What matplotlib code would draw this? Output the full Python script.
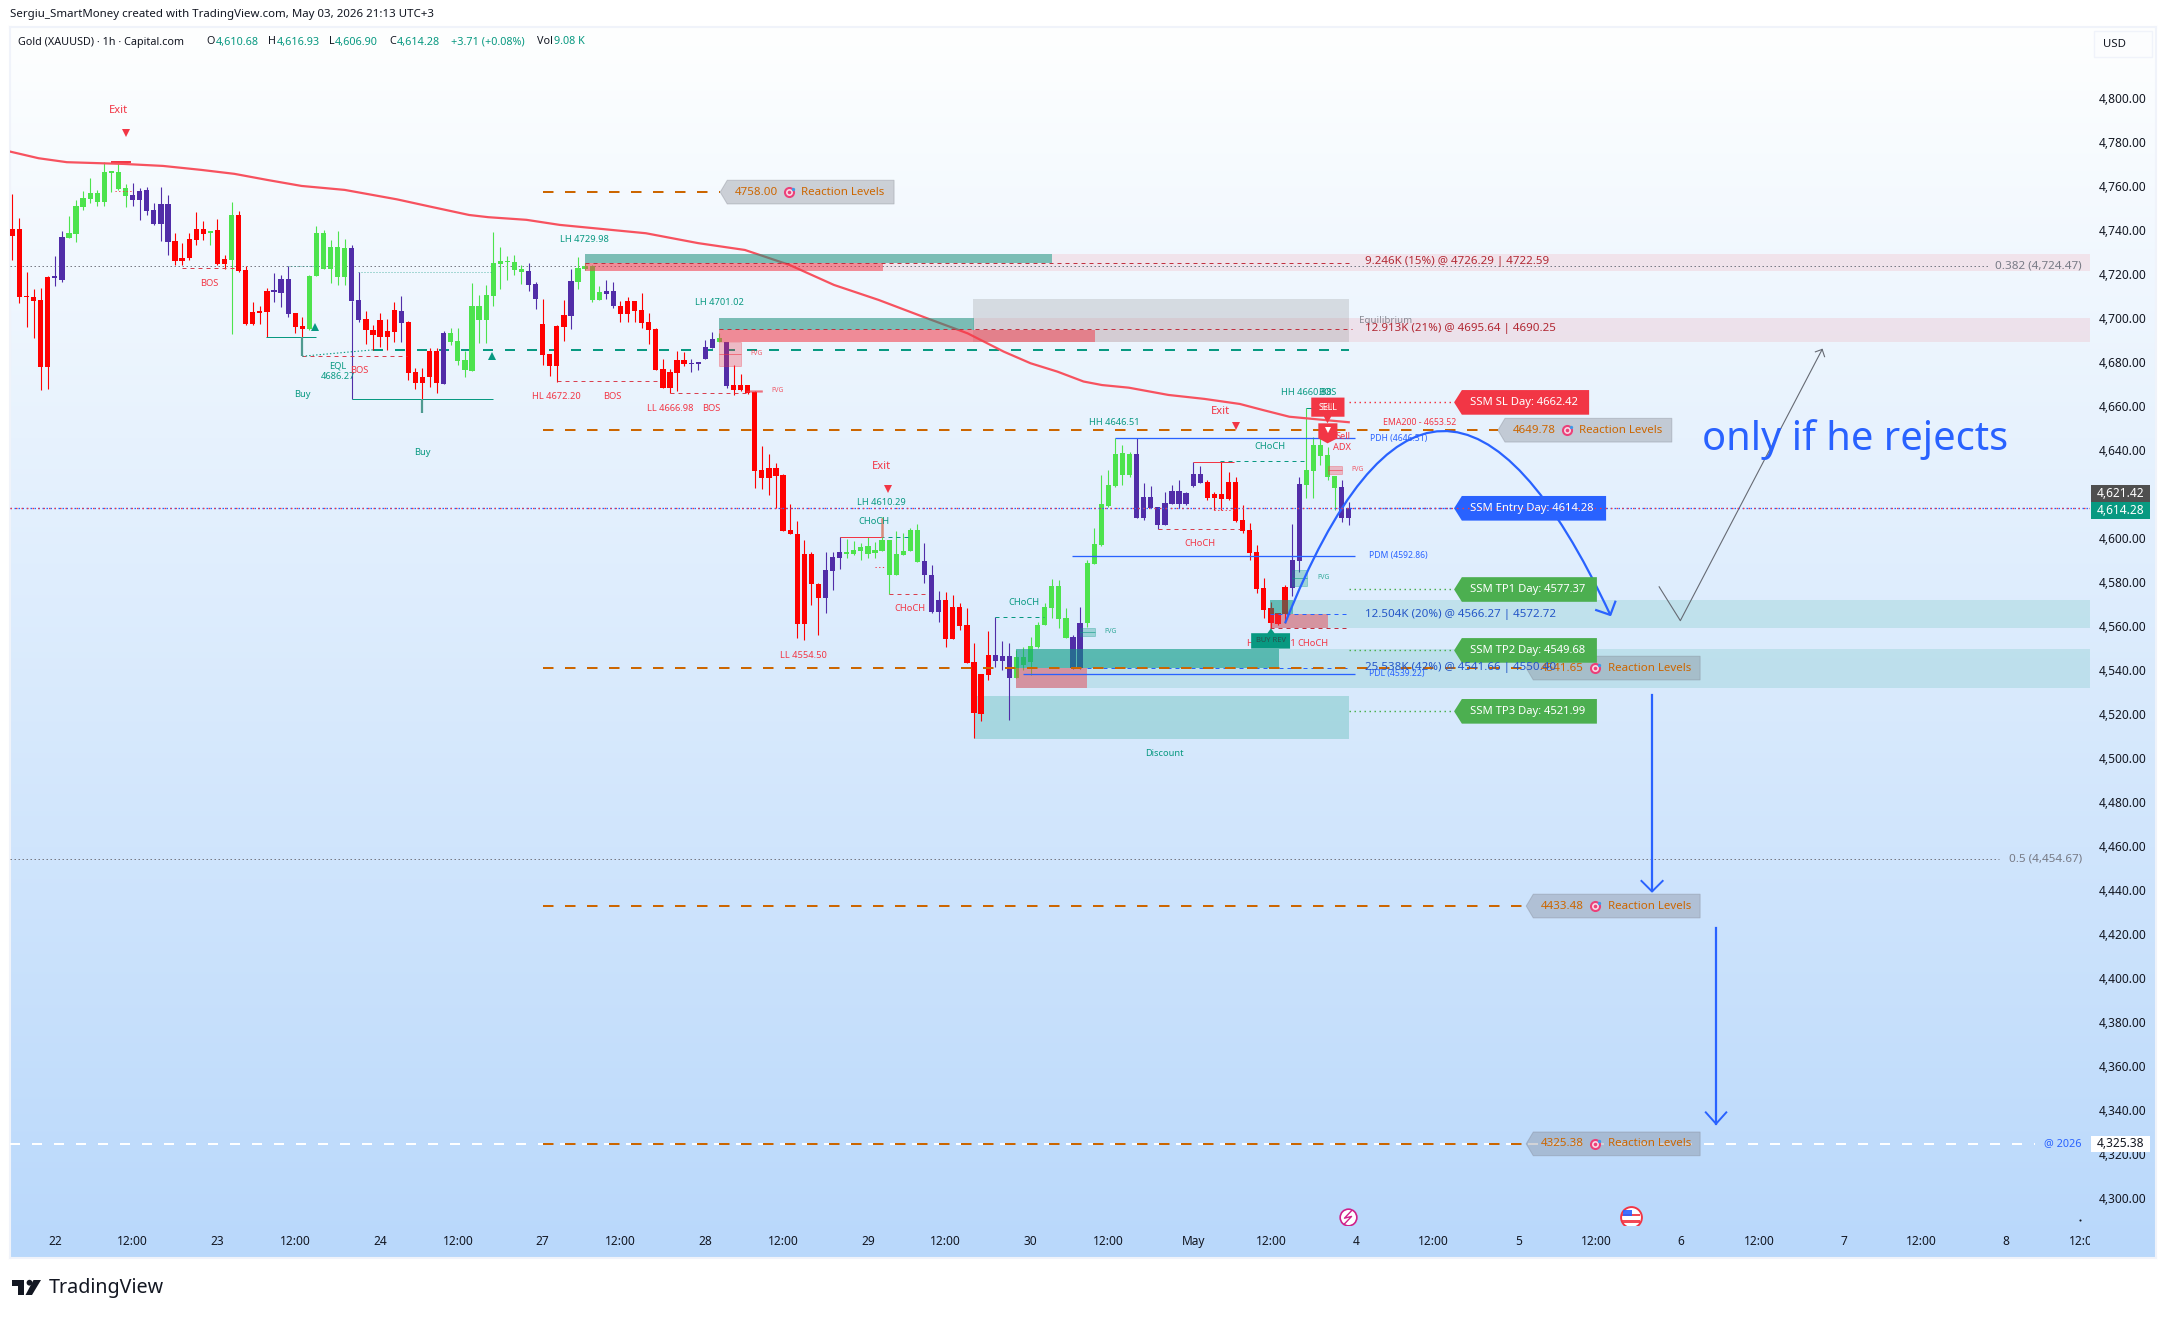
import numpy as np
import matplotlib
matplotlib.use('Agg')
import matplotlib.pyplot as plt
from matplotlib.patches import Polygon, Rectangle, PathPatch, Circle
from matplotlib.path import Path
from matplotlib.transforms import Bbox, ScaledTranslation

# candles, prices minus 4000
highs = np.array([
    757.2,746.3,721.7,713.8,714.3,719.9,729,740.4,747.2,754.4,
    758.4,764.4,759,771.6,767.2,771.1,761.7,762.2,759.7,760.2,
    752.9,760.4,756.7,739.3,734.7,739.3,749,744.9,740.4,745.8,
    729.4,753.5,749.4,724.4,708.1,706.3,714.4,721.3,720.4,724.4,
    703.1,701.3,720.2,742.6,740.8,736.3,740.4,736.7,734,721.7,
    704,697.6,703.1,700.4,708.1,710.8,699.4,678.1,678.1,687.2,
    687.2,694.9,696.3,696.3,685.8,716.7,711.3,715.8,739.9,733.1,
    729,729.4,724.9,725.8,717.2,709.4,684.4,697.6,709,723.1,
    728.7,725.7,724.9,715.4,718.1,717.2,708.5,710.4,708.5,712.2,
    703.1,696.3,682.2,677.6,685.8,685.4,682.2,680.8,690.8,694.4,
    693.8,690,679.4,675.3,670.3,667.8,642.6,639,635,629.7,
    616.1,608.5,599.9,594.4,580.3,594.4,594.4,601.1,600.3,599.4,
    598.4,601.4,599,610.5,599.9,604,603.2,605.5,607.2,598.4,
    588.5,576.7,576.1,574.9,571.4,568.8,552.9,539,558.5,565,
    554,552.9,549.9,551.4,556,562.8,571.4,582,581.7,568.8,
    556.7,569.6,590.8,605.2,629.4,631.7,646.1,643.1,640,646.1,
    625.6,624.6,615,621.9,624.9,627.2,621.9,635.2,633.5,627.2,
    621.9,635.2,630.9,628.4,615.8,607.5,597.6,582.5,571.8,566.7,
    579.4,607.2,628.4,659.7,646.9,646.9,642.3,629,627.2,616.93]) + 4000
body_tops = np.array([
    741.3,741.3,710.8,710.4,709,719.4,719.9,737.6,739.4,751.7,
    755.4,757.6,757.6,767.2,767.2,767.2,759.9,756.7,758.5,759,
    749.9,752.6,752.6,735.8,728.1,736.7,741.3,741.3,739.9,740.8,
    727.6,747.6,747.6,722.6,703.5,704,713.1,713.1,718.5,718.5,
    703.1,697.2,719.9,739.4,739.4,733.1,733.1,732.6,732.6,709,
    700.4,695.4,699.9,694.9,704.4,704,699,676.3,674,685.8,
    685.8,694,694,690.4,681.7,706.3,706.3,711.3,725.8,726.7,
    726.6,726.3,723.1,722.2,716.3,698.1,684.4,697.2,702.2,717.6,
    723.5,724.4,724.4,712.6,713.1,713.1,706.3,708.5,708.5,704.4,
    699,695.8,677.6,676.3,681.7,681.7,680.2,680.8,687.6,691.3,
    691.7,690,670.3,670.3,670.3,667.3,631.7,632.5,632.5,629.4,
    604.4,602.6,593.5,593.5,579.9,586.2,592.2,594.4,594.4,595.3,
    596.7,597.2,595.3,599.9,599.9,593.5,594.9,604.4,604.4,590.3,
    584,572.6,572.6,569.4,569.4,561.2,544.4,539,547.6,547.6,
    547.1,547.1,546.5,546.5,551.7,561.2,569.4,579,579,564.4,
    555.8,562,589.4,598.1,616.2,624.9,639,639.4,639,639,
    619.4,619.4,614.9,616.7,622.2,622.2,621.2,629.9,629.9,626.2,
    620.8,620.8,626.2,626.2,609,604.4,594.4,578,569,566.7,
    578.5,590.8,625.3,631.7,643.1,643.1,638.5,629,624,614.28]) + 4000
body_bots = np.array([
    738.1,710.5,710.4,708.5,678.7,678.7,719,718.2,737.3,739,
    751.3,754.9,753.5,753.5,766.9,759.3,756.3,754.4,754.4,749.4,
    743.5,743.5,735.4,726.7,726.7,728.1,736.3,739,739.6,725.4,
    725.4,727.2,722.2,698.1,698.1,703.1,703.5,712.8,712.2,702.6,
    696.7,695.8,695.8,719.9,723.1,723.1,719.4,719.4,708.5,699.9,
    695.4,693.1,692.2,692.2,694.4,698.5,675.8,671.3,671.3,674,
    671.3,670.8,689.9,681.3,677.2,676.7,699.9,699.9,710.8,725.4,
    726.3,722.6,721.7,715.8,709.4,684,679,679,696.7,701.7,
    717.2,723.1,709,709,711.7,706.3,702.6,702.6,704,698.5,
    695.4,677.2,669,669,675.8,679.9,679.9,679.9,682.2,687.2,
    689.9,669.9,668.1,668.1,666.6,631.4,628.2,628.2,629.1,604,
    602.6,561.7,561.7,579.9,573.5,573.5,585.9,591.7,593.5,593.5,
    594.9,593.5,594,594.9,584,584,593.1,594.9,589.9,584,
    567.2,567.2,554.9,554.9,560.8,543.8,521.4,520.8,538.5,544.9,
    544.9,537.2,537.2,543,544.4,551.3,561.2,569,564,555.3,
    541.5,541.5,562.2,589,597.6,615.3,624.4,629.4,629.4,609.9,
    609.9,614.6,606.7,606.7,616.2,616.2,616.2,624.4,625.8,619,
    619,618.5,618.5,608.5,604,594,577.6,568,562.3,561.7,
    566.2,578,590.3,624.9,631.2,638,628.5,623.5,609.9,609.9]) + 4000
lows = np.array([
    727.2,707.8,696.9,691.9,668.2,668.5,715.5,717.3,737.3,735.5,
    749.9,752.9,751.7,751.7,758.1,759,751.3,751.7,745.4,747.6,
    743.1,735.8,729.4,724.9,724.9,727.2,734,736.3,734,724.9,
    723.1,693.5,721.9,697.6,697.6,698.1,692.3,708.1,705.8,701.3,
    694,692.3,695.4,719.9,723.1,716.6,715.8,715.8,708.5,699.1,
    689,686.3,687.8,686.3,689.9,689.9,672.6,668.7,663.5,669.6,
    666.6,670.8,688.5,679.4,674,676.7,689.4,689.4,706.3,714.1,
    718.1,720.4,716.3,713.1,704.9,679.4,674.4,671.9,690.4,695.8,
    714,722.6,708.1,709,709.4,705.4,699,699,699,696.3,
    689,677.2,669,666.6,667.6,679,676.3,677.2,682.2,687,
    689.9,669.1,665.8,667.8,666.2,623.7,623.1,620.3,614.3,604,
    602.6,555.2,554.4,570.3,556.7,566.5,577.2,586.7,591.6,593.1,
    590.8,591.6,591.6,594.9,575.2,584,593.1,594.9,589.9,580.5,
    566.5,562.5,551.4,554.9,559,543.8,510,517.8,536.2,542.3,
    540.8,518.1,537,540.8,538.5,550.6,561.2,564.3,559.7,555.2,
    541.1,541.1,560.5,589,597.2,615,624.1,624.9,628.7,609.7,
    609,614.3,604.7,606.7,616.2,614.3,615.8,623.8,625.6,618.1,
    613.5,613.5,618.1,608.2,602.9,590.8,575.6,564.3,559.7,561.2,
    562,574.6,585.5,618.8,618.8,634,627.2,613.5,608.2,606.9]) + 4000
candle_kind = ('r'*6+'p'*2+'g'*9+'p'*6+'r'*5+'g'+'r'*2+'g'+'r'*5+'p'*3+'r'*2+'g'*6+'p'*2+'r'*5+'p'+'r'*5+'p'
               +'g'*11+'p'*2+'r'*4+'p'+'g'*4+'p'*2+'r'*10+'p'*4+'g'+'p'+'r'*13+'p'*3+'g'*11+'p'*3+'r'*7+'p'*3
               +'g'*8+'p'*2+'g'*7+'p'*10+'r'*12+'p'*2+'g'*5+'p'*2)

ema_x = [-0.3,3.7,7.7,15.8,21.3,26.7,31.4,36.1,40.9,47,54.4,59.1,64.6,67.3,72.7,77.4,89.6,97,103.6,109.9,116.2,
         122.5,129.4,135.1,140.2,144,147.8,151.5,154.1,157.9,163.5,168.6,173.6,176.8,180.6,185.6,189]
ema_y = [4776.4,4773.4,4771.6,4770.8,4769.9,4768.1,4766.3,4763.5,4760.8,4759,4754.7,4751.4,4747.6,4746.6,4745.4,
         4743.1,4739.3,4734.8,4731.7,4724.9,4715.8,4709,4700.6,4693.8,4685.5,4680.2,4676.4,4671.9,4670.3,4669.1,
         4665.8,4664,4661.7,4659,4655.9,4654.4,4653.4]

price_ticks = list(range(4300, 4801, 20))
time_pos = [6,17,29,40,52,63,75,86,98,109,121,132,144,155,167,178,190,201,213,224,236,247,259,270,282,293]
time_labels = ['22','12:00','23','12:00','24','12:00','27','12:00','28','12:00','29','12:00','30','12:00','May',
               '12:00','4','12:00','5','12:00','6','12:00','7','12:00','8','12:00']

reaction_levels = [4758.00, 4649.78, 4541.65, 4433.48, 4325.38]
reaction_tips = [100.1, 210.1, 214.1, 214.1, 214.1]

day_names = ['SSM SL Day', 'SSM Entry Day', 'SSM TP1 Day', 'SSM TP2 Day', 'SSM TP3 Day']
day_prices = [4662.42, 4614.28, 4577.37, 4549.68, 4521.99]
day_colors = ['#f23645', '#2962ff', '#4caf50', '#4caf50', '#4caf50']
day_ends = [223.0, 225.4, 224.1, 224.1, 224.1]

# (x, price, text, colour)
TEAL, RED, BLUE, ORANGE = '#089981', '#f23645', '#2962ff', '#cc6600'
small_labels = [
    (27.9,4716.4,'BOS',RED),(46,4679.1,'EQL',TEAL),(46,4674.1,'4686.27',TEAL),(49,4677,'BOS',RED),
    (41,4665.8,'Buy',TEAL),(58,4639.6,'Buy',TEAL),(80.9,4736.4,'LH 4729.98',TEAL),(100,4707.9,'LH 4701.02',TEAL),
    (76.9,4665,'HL 4672.20',RED),(84.9,4665,'BOS',RED),(93,4659.6,'LL 4666.98',RED),(98.9,4659.6,'BOS',RED),
    (122.9,4617,'LH 4610.29',TEAL),(121.9,4608.2,'CHoCH',TEAL),(126.9,4568.8,'CHoCH',RED),
    (111.9,4547.5,'LL 4554.50',RED),(143,4571.6,'CHoCH',TEAL),(155.9,4653.2,'HH 4646.51',TEAL),
    (177.9,4642.3,'CHoCH',TEAL),(168,4598.4,'CHoCH',RED),(183,4666.8,'HH 4660.88',TEAL),(186,4666.8,'BOS',TEAL),
    (188.2,4646.8,'Sell',RED),(188,4641.8,'ADX',RED),(184,4552.9,'CHoCH',RED),(178,4552.9,'HL 4559.61',RED),
    (162.9,4503,'Discount',TEAL),
]
fvg_labels = [(105.3,4684.6,RED),(108.2,4667.9,RED),(155.3,4558.4,TEAL),(190.3,4632,RED),(185.4,4582.9,TEAL)]
# x0, x1, p0, p1, colour
fvg_boxes = [(100,103,4679.1,4689.7,RED),(103.8,106,4667.3,4668,RED),(151,153.1,4556.4,4559.9,TEAL),
             (186,188,4629.9,4633.5,RED),(181,183.1,4579.1,4586.2,TEAL)]

W, H = 2166, 1318
plt.rcParams['font.family'] = ['Noto Sans', 'DejaVu Sans']
plt.rcParams['lines.scale_dashes'] = False

fig = plt.figure(figsize=(W/100, H/100), dpi=100, facecolor='white')

def rect_px(x0, y0, x1, y1):
    return [x0/W, 1-y1/H, (x1-x0)/W, (y1-y0)/H]

# gradient pane behind everything
bg = fig.add_axes(rect_px(10, 27, 2156, 1258), zorder=0)
top_col = np.array([254, 255, 255])/255
bot_col = np.array([185, 216, 251])/255
t = np.linspace(0, 1, 512)[:, None, None]
bg.imshow(top_col*(1-t) + bot_col*t, aspect='auto', extent=(0, 1, 0, 1))
bg.set_xticks([]); bg.set_yticks([])
for s in bg.spines.values():
    s.set_color('#f0f3fa'); s.set_linewidth(1.5)

ax = fig.add_axes(rect_px(10, 27, 2090, 1225), zorder=1)
ax.patch.set_visible(False)
ax.set_xlim(-0.34, 293.84)
ax.set_ylim(4288.5, 4833.05)
for s in ax.spines.values():
    s.set_visible(False)
ax.yaxis.tick_right()
ax.set_yticks(price_ticks)
ax.set_yticklabels([f'{p:,.2f}' for p in price_ticks])
ax.set_xticks(time_pos)
ax.set_xticklabels(time_labels)
ax.tick_params(axis='y', length=0, pad=6.5, labelsize=8.6, labelcolor='#131722')
ax.tick_params(axis='x', length=0, pad=7.4, labelsize=8.6, labelcolor='#131722')
for lbl in ax.get_xticklabels():
    lbl.set_clip_box(Bbox([[0, 0], [2090, H]]))
    lbl.set_clip_on(True)
# price labels sit a touch above their level
up = ScaledTranslation(0, 1.6/100, fig.dpi_scale_trans)
for lbl in ax.get_yticklabels():
    lbl.set_transform(lbl.get_transform() + up)


def box(x0, x1, p0, p1, color, alpha=1.0, z=1.0):
    ax.add_patch(Rectangle((x0, p0), x1-x0, p1-p0, facecolor=color, edgecolor='none', alpha=alpha, zorder=z))


def hline(x0, x1, p, color, lw=1.0, dash=None, z=4.5, alpha=1.0):
    line, = ax.plot([x0, x1], [p, p], color=color, lw=lw*0.72, zorder=z, alpha=alpha, solid_capstyle='butt')
    if dash:
        line.set_linestyle((0, [d*0.72 for d in dash]))


def txt(x, p, s, color, size=6.7, ha='center', z=7, **kw):
    return ax.text(x, p, s, color=color, fontsize=size, ha=ha, va='center', zorder=z, **kw)


# long right-side bands
box(81, 293.84, 4722.3, 4729.9, '#f23645', 0.10)
box(100, 293.84, 4690.0, 4700.6, '#f23645', 0.10)
box(177.9, 293.84, 4560.0, 4572.6, '#4db6ac', 0.20)
box(142, 293.84, 4532.8, 4550.3, '#4db6ac', 0.20)
box(136, 189, 4509.4, 4529.0, '#4db6ac', 0.35)
box(135.9, 189, 4689.9, 4709.3, '#9e9e9e', 0.30, z=1.5)

# horizontal guide lines
hline(-0.34, 286, 4325.38, 'white', lw=2, dash=(10, 12), z=1.8)
hline(-0.34, 279.5, 4724.47, '#787b86', dash=(1.5, 2.5), z=1.8)
hline(-0.34, 281, 4454.67, '#787b86', dash=(1.5, 2.5), z=1.8)
hline(-0.34, 293.84, 4614.28, BLUE, lw=1.3, dash=(1.5, 2.5), z=6.5)
hline(-0.34, 293.84, 4614.28, RED, lw=1.3, dash=(1.5, 4.0), z=6.6)
hline(51, 189, 4686.27, TEAL, lw=2, dash=(10, 12), z=2)

# candles
x = np.arange(len(highs))
kinds = np.array(list(candle_kind))
colors = {'g': '#4de34d', 'r': '#ff0000', 'p': '#512da8'}
for k, col in colors.items():
    m = kinds == k
    ax.vlines(x[m], lows[m], highs[m], color=col, lw=0.8, zorder=3)
    ax.bar(x[m], np.maximum(body_tops[m]-body_bots[m], 0.5), bottom=body_bots[m], width=0.74,
           color=col, linewidth=0, zorder=3.1)

ax.plot(ema_x, ema_y, color='#f7525f', lw=1.6, zorder=3.5)
hline(14, 16.8, 4771.7, RED, lw=2, z=3.4)

# supply and demand blocks
box(81, 147, 4725.7, 4729.9, TEAL, 0.5, z=4)
box(81, 123.1, 4722.2, 4725.7, RED, 0.5, z=4)
box(100, 136, 4695.3, 4700.6, TEAL, 0.5, z=4)
box(100, 153.1, 4689.9, 4695.3, RED, 0.5, z=4)
box(177.9, 181.1, 4566.2, 4572.6, TEAL, 0.5, z=4)
box(177.9, 186.1, 4560.0, 4566.2, RED, 0.45, z=4)
box(142, 179.1, 4541.5, 4550.3, TEAL, 0.55, z=4)
box(142, 152, 4532.8, 4541.5, RED, 0.45, z=4)
for x0, x1, p0, p1, c in fvg_boxes:
    ax.add_patch(Rectangle((x0, p0), x1-x0, p1-p0, facecolor=c, edgecolor=c, alpha=0.3, lw=0.7, zorder=4.2))
    hline(x0, x1, (p0+p1)/2, c, lw=0.8, z=4.3, alpha=0.7)

# structure lines
dash_s = (4, 4)
for x0, x1, p in [(81, 189.4, 4726.0), (100, 189.4, 4695.64), (177.9, 189, 4560.0),
                  (41, 55.8, 4683.4), (24, 31.4, 4723.4), (77, 91.6, 4672), (93, 104.2, 4666.6),
                  (124, 129.5, 4575.2), (162, 173.6, 4604.7)]:
    hline(x0, x1, p, '#d9404f' if x1 < 189 else '#c2303f', dash=dash_s)
for x0, x1, p in [(177.9, 189, 4566.27), (152, 189, 4541.5)]:
    hline(x0, x1, p, BLUE, dash=dash_s)
for x0, x1, p in [(117, 127, 4601.1), (139, 145.9, 4564.7), (170.8, 183, 4635.6)]:
    hline(x0, x1, p, TEAL, dash=dash_s)
for x0, x1, p in [(39, 43, 4724.3), (48.9, 68, 4721.6)]:
    hline(x0, x1, p, TEAL, lw=0.8, dash=(1, 2), alpha=0.8)
for x0, x1, p in [(14.5, 17, 4758.4), (122, 123.6, 4587.5), (170, 172.7, 4613.5)]:
    hline(x0, x1, p, RED, dash=(1.2, 2.5))
ax.plot([41, 51], [4683.4, 4686.3], color=TEAL, lw=0.8, ls=(0, (1, 1.5)), zorder=4.5)

hline(35.9, 43, 4692, TEAL)
hline(48, 68, 4663.8, TEAL)
hline(117, 123, 4601.1, RED)
hline(167, 172.8, 4635.2, RED)
hline(183, 184.3, 4659.7, TEAL)
ax.vlines([41, 58], [4683.5, 4657.5], [4692, 4663.8], color='#4f9a90', lw=1.6, zorder=4.5)
ax.vlines([48], [4663.8], [4708.5], color='#512da8', lw=0.8, zorder=3)
ax.vlines([123], [4601.1], [4610], color='#d98a7a', lw=1.8, zorder=4.5)

# pivot lines of previous day
hline(156, 189.9, 4646.1, BLUE, lw=1.3)
hline(149.8, 189.9, 4592.5, BLUE, lw=1.3)
hline(143, 189.9, 4538.8, BLUE, lw=1.3)

# triangles
ax.plot([16, 123.9, 173], [4785, 4623.2, 4651.8], ls='none', marker='v', color=RED, ms=5.5, mew=0, zorder=6)
ax.plot([42.8, 67.9], [4696.6, 4683.7], ls='none', marker='^', color=TEAL, ms=6, mew=0, zorder=6)

# hand drawn arc, arrows and the grey path
arc = Path([(180.0, 4562), (201.4, 4734.9), (226, 4565.8)], [Path.MOVETO, Path.CURVE3, Path.CURVE3])
ax.add_patch(PathPatch(arc, facecolor='none', edgecolor=BLUE, lw=1.6, zorder=5))
ax.plot([224, 226, 226.7], [4568, 4565.8, 4571.8], color=BLUE, lw=1.6, zorder=5)
ax.plot([231.9, 231.9], [4529.4, 4440.1], color=BLUE, lw=1.6, zorder=5)
ax.plot([230.4, 231.9, 233.4], [4444.9, 4440.1, 4444.9], color=BLUE, lw=1.4, zorder=5)
ax.plot([240.95, 240.95], [4423.7, 4334.5], color=BLUE, lw=1.6, zorder=5)
ax.plot([239.5, 240.95, 242.4], [4339.7, 4334.5, 4339.7], color=BLUE, lw=1.4, zorder=5)
ax.plot([232.9, 235.9, 255.96], [4578.6, 4563.2, 4686.5], color='#666a73', lw=0.8, zorder=5)
ax.plot([255, 255.96, 256.3], [4685.4, 4686.5, 4683.2], color='#666a73', lw=0.8, zorder=5)

# reaction levels with their tags
for p, tip in zip(reaction_levels, reaction_tips):
    hline(75, tip, p, ORANGE, lw=2, dash=(10.5, 11.5), z=4.6)
    h = 5.4
    ax.add_patch(Polygon([(tip, p), (tip+1, p+h), (tip+24.6, p+h), (tip+24.6, p-h), (tip+1, p-h)],
                         closed=True, facecolor='#787b86', edgecolor='#787b86', alpha=0.33, lw=0.7, zorder=6))
    txt(tip+2.1, p, f'{p:.2f}', ORANGE, size=8.3, ha='left')
    ax.plot([tip+9.7], [p], marker='o', ms=8, color='#ec4079', mew=0, zorder=7)
    ax.plot([tip+9.7], [p], marker='o', ms=5, color='#f8dbe6', mew=0, zorder=7.1)
    ax.plot([tip+9.7], [p], marker='o', ms=2.6, color='#ec4079', mew=0, zorder=7.2)
    ax.plot([tip+10.3], [p+1.4], marker='o', ms=2.4, color='#3d9be9', mew=0, zorder=7.3)
    txt(tip+11.5, p, 'Reaction Levels', ORANGE, size=8.3, ha='left')

# day level tags
for name, p, col, end in zip(day_names, day_prices, day_colors, day_ends):
    h = 5.6
    hline(189, 203.9, p, col, lw=1.4, dash=(1.5, 3.5), z=4.7)
    ax.add_patch(Polygon([(203.9, p), (205, p+h), (end, p+h), (end, p-h), (205, p-h)], closed=True,
                         facecolor=col, edgecolor='none', zorder=6.2))
    txt(206.2, p, f'{name}: {p}', 'white', size=8.1, ha='left', z=7.4, fontweight='medium')

# SELL and BUY REV flags
ax.add_patch(Polygon([(183.7, 4664.6), (188.4, 4664.6), (188.4, 4655.9), (186.5, 4655.9), (186, 4652.9),
                      (185.5, 4655.9), (183.7, 4655.9)], closed=True, facecolor=RED, zorder=6))
txt(186, 4660.3, 'Sell', '#ff8f8f', size=6.5, z=6.1)
txt(186, 4660.3, 'SELL', 'white', size=6.3, z=6.2)
ax.add_patch(Polygon([(184.7, 4652.9), (187.4, 4652.9), (187.4, 4646.1), (186, 4643.8), (184.7, 4646.1)],
                     closed=True, facecolor=RED, zorder=6))
ax.plot([186], [4649.8], marker='v', ms=4, color='white', mew=0, zorder=6.3)
ax.add_patch(Polygon([(175.2, 4557.5), (177.5, 4557.5), (178, 4559.7), (178.5, 4557.5), (180.7, 4557.5),
                      (180.7, 4550.5), (175.2, 4550.5)], closed=True, facecolor=TEAL, zorder=7.5))
txt(178, 4554.1, 'BUY REV', '#2a524e', size=5.4, z=7.6)

# small texts
for x0, p, s, c in small_labels:
    txt(x0, p, s, c)
for x0, p, c in fvg_labels:
    txt(x0, p, 'FVG', c, size=4.8, alpha=0.8)
txt(15, 4795, 'Exit', RED, size=8)
txt(122.9, 4633.2, 'Exit', RED, size=8)
txt(170.9, 4658.5, 'Exit', RED, size=8)
txt(199, 4653.2, 'EMA200 - 4653.52', RED, size=6.3)
txt(196, 4646.2, 'PDH (4646.51)', BLUE, size=6.2)
txt(196, 4592.8, 'PDM (4592.86)', BLUE, size=6.2)
txt(195.8, 4539, 'PDL (4539.22)', BLUE, size=6.2)
txt(190.5, 4699.6, 'Equilibrium', '#888b94', size=7, ha='left')
txt(191.35, 4726.4, '9.246K (15%) @ 4726.29 | 4722.59', '#b22833', size=8.3, ha='left')
txt(191.35, 4695.8, '12.913K (21%) @ 4695.64 | 4690.25', '#b22833', size=8.3, ha='left')
txt(191.35, 4566.2, '12.504K (20%) @ 4566.27 | 4572.72', '#2456c7', size=8.3, ha='left')
txt(191.35, 4541.8, '25.538K (42%) @ 4541.66 | 4550.40', '#2456c7', size=8.3, ha='left')
txt(292.7, 4724.47, '0.382 (4,724.47)', '#787b86', size=8.4, ha='right')
txt(292.7, 4454.67, '0.5 (4,454.67)', '#787b86', size=8.4, ha='right')
txt(292.7, 4325.38, '@ 2026', BLUE, size=7.8, ha='right')
txt(238.95, 4645.5, 'only if he rejects', BLUE, size=28.7, ha='left')

# session icons at the foot of the chart
ax.plot([188.9], [4292], marker='o', ms=12, mfc='white', mec='#d0218a', mew=1.2, zorder=6)
ax.plot([189.4, 188.4, 189.4, 188.4], [4295, 4291.6, 4292.4, 4289], color='#d0218a', lw=1, zorder=6.1)
ax.plot([228.9], [4292], marker='o', ms=15, mfc='white', mec=RED, mew=1.4, zorder=6)
box(227.6, 230.2, 4292.6, 4293.6, RED, 0.9, z=6.1)
box(227.6, 230.2, 4289.6, 4290.6, RED, 0.9, z=6.1)
box(227.8, 229, 4292.6, 4295.2, BLUE, 0.9, z=6.2)
ax.plot([292.4], [4291], marker='o', ms=1.5, color='#131722', mew=0, zorder=6)

# price labels on the axis
ytr = ax.get_yaxis_transform()
for p, face, fg in [(4621.1, '#4f4f4f', 'white'), (4613.4, '#089981', 'white'), (4325.38, 'white', '#131722')]:
    ax.add_patch(Rectangle((1.0005, p-3.8), 0.0284, 7.6, transform=ytr, facecolor=face, edgecolor='none',
                           clip_on=False, zorder=8))
for p, s, fg in [(4621.1, '4,621.42', 'white'), (4613.4, '4,614.28', 'white'), (4325.38, '4,325.38', '#131722')]:
    ax.text(1.0147, p, s, transform=ytr, color=fg, fontsize=8.6, ha='center', va='center', clip_on=False,
            zorder=9, fontweight='medium')

# page overlay: header, currency button, logo (page pixels)
page = fig.add_axes([0, 0, 1, 1], zorder=3)
page.set_xlim(0, W)
page.set_ylim(H, 0)
page.axis('off')
page.text(10, 14.5, 'Sergiu_SmartMoney created with TradingView.com, May 03, 2026 21:13 UTC+3', color='#131722',
          fontsize=8.25, va='center')
header_bits = [(18, 'Gold (XAUUSD) · 1h · Capital.com', '#131722'), (206, 'O', '#131722'), (215.6, '4,610.68', TEAL),
               (268.3, 'H', '#131722'), (276.8, '4,616.93', TEAL), (329.5, 'L', '#131722'), (335, '4,606.90', TEAL),
               (389.7, 'C', '#131722'), (396.9, '4,614.28', TEAL), (451, '+3.71 (+0.08%)', TEAL),
               (537, 'Vol', '#131722'), (553.6, '9.08 K', TEAL)]
for xp, s, c in header_bits:
    page.text(xp, 42, s, color=c, fontsize=7.8, va='center')
page.add_patch(plt.Rectangle((2094, 31), 58, 26, facecolor='#fcfdfe', edgecolor='#f0f3fa', lw=1))
page.text(2103, 44.5, 'USD', color='#131722', fontsize=8.2, va='center')
page.add_patch(Polygon([(12.2, 1280), (24, 1280), (24, 1295), (18, 1295), (18, 1286), (12.2, 1286)],
                       closed=True, facecolor='#131722', edgecolor='none'))
page.add_patch(Circle((29.5, 1282.7), 2.9, facecolor='#131722', edgecolor='none'))
page.add_patch(Polygon([(33.5, 1280), (41, 1280), (32, 1295), (25.5, 1295)], closed=True, facecolor='#131722',
                       edgecolor='none'))
page.text(49, 1288, 'TradingView', color='#131722', fontsize=14.2, va='center', fontweight='bold')

fig.savefig('out.png', dpi=100)
